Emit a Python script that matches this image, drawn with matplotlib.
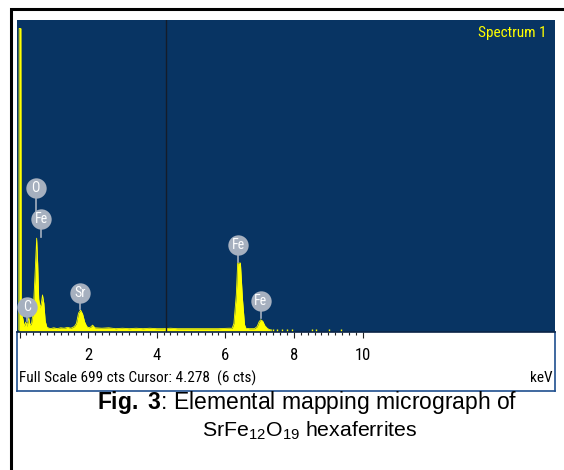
import numpy as np
import matplotlib.pyplot as plt
from matplotlib.transforms import blended_transform_factory

plt.rcParams['mathtext.fontset'] = 'custom'
plt.rcParams['mathtext.rm'] = 'Liberation Sans'
plt.rcParams['mathtext.bf'] = 'Liberation Sans:bold'
plt.rcParams['mathtext.it'] = 'Liberation Sans:italic'

narrow = ['Roboto Condensed', 'DejaVu Sans']

# spectrum (keV, counts)
energy = [-0.02, -0.01, 0.04, 0.05, 0.10, 0.14, 0.18, 0.22, 0.27, 0.31,
          0.35, 0.40, 0.45, 0.50, 0.53, 0.56, 0.60, 0.64, 0.67, 0.71,
          0.75, 0.80, 0.90, 1.00, 1.10, 1.20, 1.30, 1.40, 1.50, 1.60,
          1.66, 1.72, 1.78, 1.84, 1.90, 1.96, 2.02, 2.08, 2.13, 2.20,
          2.40, 2.60, 2.80, 3.00, 3.20, 3.40, 3.60, 3.80, 4.00, 4.20,
          4.40, 4.60, 4.80, 5.00, 5.40, 5.80, 6.10, 6.20, 6.25, 6.32,
          6.36, 6.44, 6.50, 6.56, 6.60, 6.70, 6.85, 6.93, 6.98, 7.03,
          7.09, 7.15, 7.22, 7.28, 7.35]
counts = [0, 680, 680, 40, 25, 8, 18, 8, 28, 10,
          15, 40, 120, 207, 150, 70, 50, 62, 79, 60,
          20, 6, 3, 5, 3, 5, 4, 6, 4, 8,
          15, 38, 45, 36, 18, 8, 5, 7, 11, 5,
          4, 5, 3, 4, 3, 4, 3, 4, 3, 3,
          4, 3, 3, 3, 3, 3, 4, 4, 15, 80,
          151, 151, 70, 12, 4, 3, 3, 8, 18, 23,
          20, 10, 4, 1, 0]
specks = [7.38, 7.50, 7.66, 7.81, 7.94, 8.54, 8.64, 9.02, 9.36]

peak_names = ['C', 'O', 'Fe', 'Sr', 'Fe', 'Fe']
peak_keV = [0.23, 0.47, 0.64, 1.76, 6.38, 7.03]
label_h = [52, 320, 250, 84, 192, 66]
stem_bot = [20, 262, 210, 48, 154, 26]

full_scale = 699
cursor = 4.278
ticks = [2, 4, 6, 8, 10]

navy = '#083463'
yellow = '#ffff00'
bubble = '#a6b0bf'

fig = plt.figure(figsize=(5.64, 4.70), dpi=100)
W, H = 564, 470

def box(x0, y0, x1, y1):
    return [x0 / W, 1 - y1 / H, (x1 - x0) / W, (y1 - y0) / H]

ax = fig.add_axes(box(17, 20, 555, 332))
ax.set_facecolor(navy)
ax.set_xlim(-0.073, 15.61)
ax.set_ylim(-4.5, full_scale)
ax.set_xticks([])
ax.set_yticks([])
for s in ax.spines.values():
    s.set_visible(False)

ax.fill_between(energy, counts, -4.5, color=yellow, lw=0)
ax.plot(energy, counts, color=yellow, lw=0.6)
ax.vlines(specks, -4.5, 3, color=yellow, lw=1)
ax.axvline(cursor, color='#141c2a', lw=1)

ax.text(0.985, 0.958, 'Spectrum 1', transform=ax.transAxes, ha='right', va='center',
        color=yellow, fontsize=11, family=narrow)

# element markers
for name, e, h, b in zip(peak_names, peak_keV, label_h, stem_bot):
    ax.plot([e, e], [h, b], color=bubble, lw=1.2, zorder=3)
    ax.scatter([e], [h], s=215, color=bubble, zorder=4, lw=0)
    ax.text(e, h, name, color='white', ha='center', va='center', fontsize=10,
            family=narrow, zorder=5)

# bottom scale box
axb = fig.add_axes(box(17, 332, 555, 391))
axb.set_xlim(-0.073, 15.61)
axb.set_ylim(0, 1)
axb.set_yticks([])
axb.set_xticks(np.arange(0, 10.01, 2))
axb.set_xticks(np.arange(0, 10.01, 0.2), minor=True)
axb.tick_params(axis='x', which='both', top=True, bottom=False, labelbottom=False,
                direction='in', color='#222222', width=0.8)
axb.tick_params(axis='x', which='major', length=4.5)
axb.tick_params(axis='x', which='minor', length=2.3)
for s in axb.spines.values():
    s.set_color('#1f4f8f')
    s.set_linewidth(1.2)
axb.spines['top'].set_color('#0b2447')

tr = blended_transform_factory(axb.transData, axb.transAxes)
for t in ticks:
    axb.text(t, 0.61, str(t), transform=tr, ha='center', va='center',
             fontsize=12, family=narrow)
axb.text(0.003, 0.22, f'Full Scale {full_scale} cts Cursor: {cursor}  (6 cts)',
         transform=axb.transAxes, ha='left', va='center', fontsize=11, family=narrow)
axb.text(0.996, 0.22, 'keV', transform=axb.transAxes, ha='right', va='center',
         fontsize=11, family=narrow)

# caption
fig.text(307.5 / W, 1 - 409.5 / H, r'$\mathbf{Fig.\ 3}$: Elemental mapping micrograph of',
         ha='center', va='baseline', fontsize=16.5, family='Liberation Sans')
fig.text(310 / W, 1 - 437 / H, r'SrFe$_{12}$O$_{19}$ hexaferrites',
         ha='center', va='baseline', fontsize=15.3, family='Liberation Sans')

# outer frame, runs off the right and bottom edges
fig.patches.append(plt.Rectangle((11 / W, -0.1), 1.2, 1 - 8.5 / H + 0.1, fill=False,
                                 ec='black', lw=2.2, transform=fig.transFigure))

fig.savefig('out.png', dpi=100)
